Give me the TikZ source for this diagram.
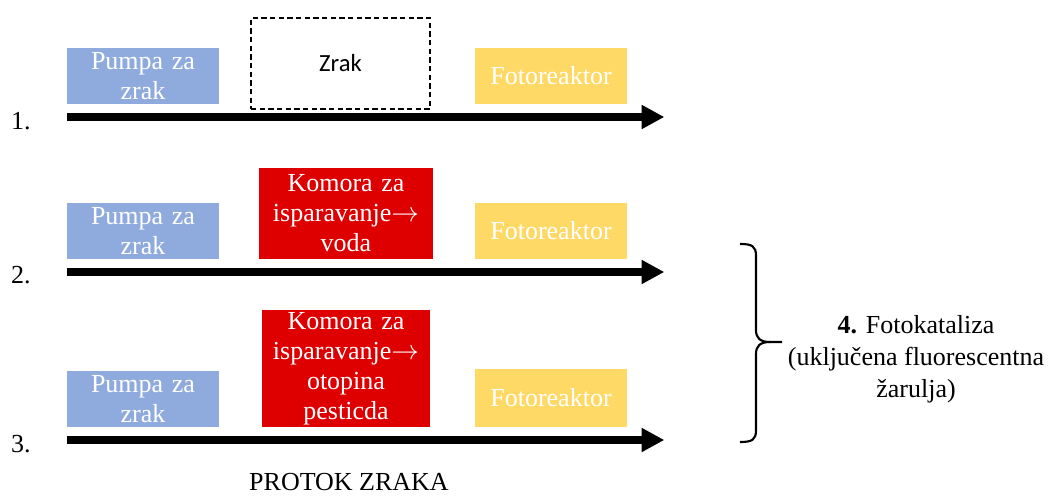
\documentclass[tikz,border=0pt]{standalone}
\usepackage{fontspec}
\setmainfont{Liberation Serif}
\newfontfamily\calib{Carlito}
\usetikzlibrary{arrows.meta}
\definecolor{pblue}{HTML}{8FAADC}
\definecolor{kred}{HTML}{DE0000}
\definecolor{fyel}{HTML}{FFD966}
\newcommand{\rarr}{$\rightarrow$}
\begin{document}
\begin{tikzpicture}[x=0.75pt,y=-0.75pt,
  txt/.style={font=\fontsize{19.5pt}{22.5pt}\selectfont, inner sep=0pt, align=center},
  pumpa/.style={txt, fill=pblue, text=white, minimum width=114pt, minimum height=42pt, text width=114pt},
  foto/.style={txt, fill=fyel, text=white, minimum width=114pt, text width=114pt},
  komora/.style={txt, fill=kred, text=white},
  zrakbox/.style={draw, dashed, dash pattern=on 4pt off 2.5pt, line width=1.1pt, inner sep=0pt, font=\calib\fontsize{18.5pt}{21pt}\selectfont},
  flow/.style={line width=5.3pt, -{Triangle[length=17pt,width=17pt]}, shorten >=-1pt},
  lbl/.style={txt}
]
\useasboundingbox (0,0) rectangle (1054,496);
% row 1
\node[pumpa] (p1) at (143,76) {Pumpa za\\zrak};
\node[zrakbox, minimum width=134.25pt, minimum height=68.25pt] (z1) at (340.5,63.5) {Zrak};
\node[foto, minimum height=42pt] (f1) at (551,76) {Fotoreaktor};
\coordinate (a1s) at (67,117);
\coordinate (a1e) at (663,117);
\draw[flow] (a1s) -- (a1e);
\node[lbl] (n1) at (21,121) {1.};
% row 2
\node[pumpa] (p2) at (143,231) {Pumpa za\\zrak};
\node[komora, minimum width=130.5pt, minimum height=68.25pt, text width=130.5pt] (k2) at (346,213.5) {Komora za\\isparavanje\rarr\\voda};
\node[foto, minimum height=42pt] (f2) at (551,231) {Fotoreaktor};
\coordinate (a2s) at (67,272);
\coordinate (a2e) at (663,272);
\draw[flow] (a2s) -- (a2e);
\node[lbl] (n2) at (21,275) {2.};
% row 3
\node[pumpa] (p3) at (143,399) {Pumpa za\\zrak};
\node[komora, minimum width=126pt, minimum height=87.75pt, text width=126pt] (k3) at (346,368.5) {Komora za\\isparavanje\rarr\\otopina\\pesticda};
\node[foto, minimum height=43.5pt] (f3) at (551,398) {Fotoreaktor};
\coordinate (a3s) at (67,440);
\coordinate (a3e) at (663,440);
\draw[flow] (a3s) -- (a3e);
\node[lbl] (n3) at (21,444) {3.};
% brace
\coordinate (bt) at (740,244);
\coordinate (bb) at (740,442);
\coordinate (btip) at (782,342);
\draw[line width=1.6pt] (bt) .. controls (752,244) and (756,246) .. (756,256) -- (756,330)
  .. controls (756,338) and (760,342) .. (770,342) -- (btip);
\draw[line width=1.6pt] (bb) .. controls (752,442) and (756,440) .. (756,430) -- (756,354)
  .. controls (756,346) and (760,342) .. (770,342);
\node[txt, font=\fontsize{19.5pt}{24pt}\selectfont] (t4) at (916,359) {\textbf{4.} Fotokataliza\\(uključena fluorescentna\\žarulja)};
\node[txt] (pz) at (349,482) {PROTOK ZRAKA};
\end{tikzpicture}
\end{document}
